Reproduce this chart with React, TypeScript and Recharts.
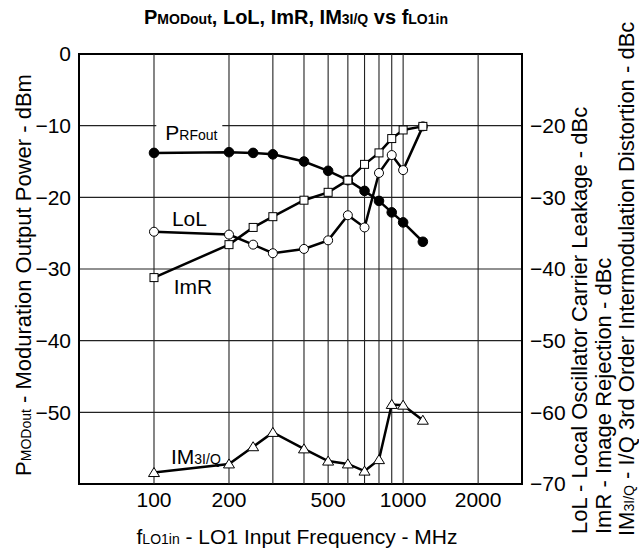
import { LineChart, Line, XAxis, YAxis, CartesianGrid, ReferenceLine, ReferenceArea, ReferenceDot } from 'recharts'

// LO1 input frequency, MHz
const freqs = [100, 200, 250, 300, 400, 500, 600, 700, 800, 900, 1000, 1200]
// left axis, dBm
const pRfOut = [-13.8, -13.7, -13.8, -14.0, -15.0, -16.3, -17.6, -19.1, -20.5, -22.1, -23.5, -26.2]
// right axis, dBc
const lol = [-34.8, -35.2, -36.6, -37.8, -37.2, -36.0, -32.5, -34.2, -26.6, -24.1, -26.2, -20.1]
const imr = [-41.2, -36.6, -34.2, -32.7, -30.4, -29.3, -27.6, -25.4, -23.8, -21.8, -20.6, -20.1]
const im3 = [-68.4, -67.2, -64.8, -62.8, -65.1, -66.8, -67.2, -68.2, -66.6, -58.9, -59.0, -61.1]

const xTicks = [100, 200, 500, 1000, 2000]
const gridFreqs = [100, 200, 300, 400, 500, 600, 700, 800, 900, 1000, 2000]
const leftTicks = [-50, -40, -30, -20, -10, 0]
const rightTicks = [-70, -60, -50, -40, -30, -20]

// curve name labels, placed in left-axis data units
const curveLabels = [
  { main: 'P', sub: 'RFout', f: 111, v: -12.0, boxed: true },
  { main: 'LoL', sub: '', f: 118, v: -24.0, boxed: false },
  { main: 'ImR', sub: '', f: 120, v: -33.5, boxed: false },
  { main: 'IM', sub: '3I/Q', f: 117, v: -57.2, boxed: false },
]

const data = freqs.map((f, i) => ({ f, p: pRfOut[i], lol: lol[i], imr: imr[i], im3: im3[i] }))

const FONT = '"Liberation Sans", Arial, sans-serif'
const minus = (v: number) => String(v).replace('-', '\u2212')
const tickStyle = { fill: '#000', fontSize: 21, fontFamily: FONT }
const GRID = '#222'

const filledDot = (props: any) => (
  <circle key={props.index} cx={props.cx} cy={props.cy} r={4.8} fill="#000" stroke="#000" />
)
const openDot = (props: any) => (
  <circle key={props.index} cx={props.cx} cy={props.cy} r={4.5} fill="#fff" stroke="#000" strokeWidth={1} />
)
const squareDot = (props: any) => (
  <rect key={props.index} x={props.cx - 4} y={props.cy - 4} width={8} height={8} fill="#fff" stroke="#000" strokeWidth={1} />
)
const triDot = (props: any) => {
  const { cx, cy } = props
  return (
    <polygon
      key={props.index}
      points={`${cx},${cy - 5} ${cx - 5.5},${cy + 4} ${cx + 5.5},${cy + 4}`}
      fill="#fff"
      stroke="#000"
      strokeWidth={1}
    />
  )
}

export default function App() {
  return (
    <div style={{ position: 'absolute', left: 0, top: 0, width: 639, height: 550, background: '#fff' }}>
      <LineChart width={639} height={550} data={data} margin={{ top: 54, right: 0, bottom: 0, left: 0 }}>
        <CartesianGrid yAxisId="left" vertical={false} stroke={GRID} strokeWidth={1.1} />
        {gridFreqs.map((g) => (
          <ReferenceLine key={g} x={g} yAxisId="left" stroke={GRID} strokeWidth={1.1} />
        ))}
        <ReferenceArea x1={50} x2={3000} y1={-60} y2={0} yAxisId="left" fill="none" stroke="#000" strokeWidth={2} />
        <XAxis
          dataKey="f"
          type="number"
          scale="log"
          domain={[50, 3000]}
          allowDataOverflow
          ticks={xTicks}
          height={66}
          tick={tickStyle}
          tickLine={false}
          axisLine={false}
        />
        <YAxis
          yAxisId="left"
          domain={[-60, 0]}
          ticks={leftTicks}
          width={79}
          tick={tickStyle}
          tickFormatter={minus}
          tickLine={false}
          axisLine={false}
        />
        <YAxis
          yAxisId="right"
          orientation="right"
          domain={[-70, -10]}
          ticks={rightTicks}
          width={117}
          tick={tickStyle}
          tickFormatter={minus}
          tickLine={false}
          axisLine={false}
        />
        <Line yAxisId="left" dataKey="p" stroke="#000" strokeWidth={2.5} dot={filledDot} isAnimationActive={false} />
        <Line yAxisId="right" dataKey="lol" stroke="#000" strokeWidth={2.5} dot={openDot} isAnimationActive={false} />
        <Line yAxisId="right" dataKey="imr" stroke="#000" strokeWidth={2.5} dot={squareDot} isAnimationActive={false} />
        <Line yAxisId="right" dataKey="im3" stroke="#000" strokeWidth={2.5} dot={triDot} isAnimationActive={false} />
        {curveLabels.map((c) => (
          <ReferenceDot
            key={c.main}
            x={c.f}
            y={c.v}
            yAxisId="left"
            r={0}
            shape={(props: any) => (
              <g>
                {c.boxed && <rect x={props.cx - 9} y={props.cy - 20} width={66} height={22} fill="#fff" />}
                <text x={props.cx} y={props.cy} fontSize={21} fontFamily={FONT} fill="#000">
                  <tspan>{c.main}</tspan>
                  {c.sub && <tspan fontSize={14}>{c.sub}</tspan>}
                </text>
              </g>
            )}
          />
        ))}
      </LineChart>
      <svg width={639} height={550} style={{ position: 'absolute', left: 0, top: 0, pointerEvents: 'none' }}>
        <text x={296} y={24} textAnchor="middle" fontSize={20} fontWeight="bold" fontFamily={FONT}>
          <tspan>P</tspan>
          <tspan fontSize={14}>MODout</tspan>
          <tspan>, LoL, ImR, IM</tspan>
          <tspan fontSize={14}>3I/Q</tspan>
          <tspan> vs f</tspan>
          <tspan fontSize={14}>LO1in</tspan>
        </text>
        <text x={297} y={544} textAnchor="middle" fontSize={21} fontFamily={FONT}>
          <tspan>f</tspan>
          <tspan fontSize={14}>LO1in</tspan>
          <tspan> - LO1 Input Frequency - MHz</tspan>
        </text>
        <text x={31} y={275} textAnchor="middle" fontSize={22} fontFamily={FONT} transform="rotate(-90 31 275)">
          <tspan>P</tspan>
          <tspan fontSize={14}>MODout</tspan>
          <tspan> - Moduration Output Power - dBm</tspan>
        </text>
        <text x={587} y={534} fontSize={22} fontFamily={FONT} transform="rotate(-90 587 534)">
          LoL - Local Oscillator Carrier Leakage - dBc
        </text>
        <text x={611} y={534} fontSize={22} fontFamily={FONT} transform="rotate(-90 611 534)">
          ImR - Image Rejection - dBc
        </text>
        <text x={634} y={536} fontSize={22} fontFamily={FONT} transform="rotate(-90 634 536)">
          <tspan>IM</tspan>
          <tspan fontSize={14}>3I/Q</tspan>
          <tspan> - I/Q 3rd Order Intermodulation Distortion - dBc</tspan>
        </text>
      </svg>
    </div>
  )
}
